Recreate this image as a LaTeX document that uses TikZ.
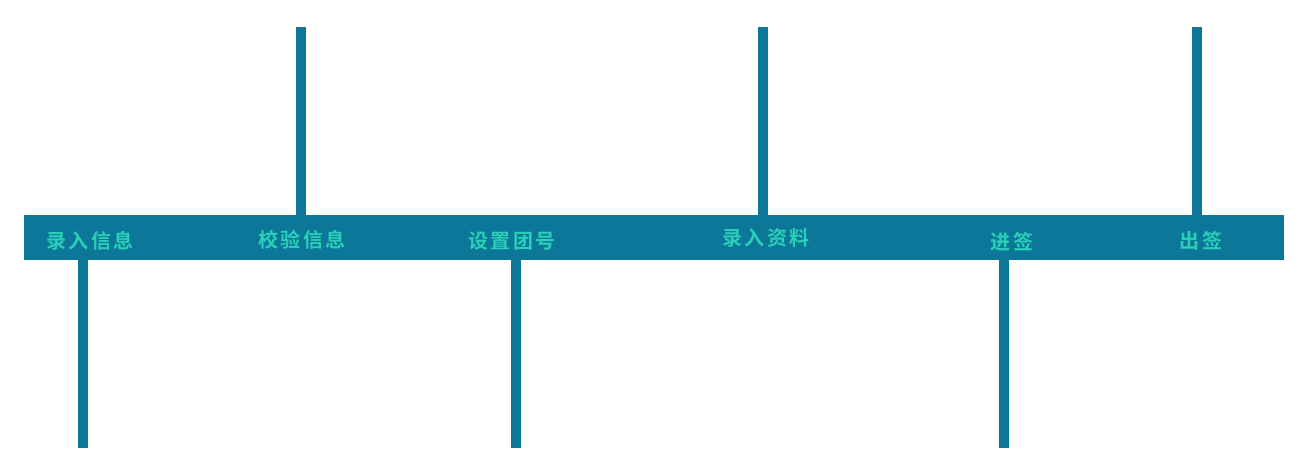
\documentclass[tikz,border=0pt]{standalone}
\usepackage{fontspec}
\newfontfamily\cjk[LetterSpace=12,BoldFont={Noto Sans CJK SC Bold}]{Noto Sans CJK SC}
\definecolor{barblue}{HTML}{0C7799}
\definecolor{steptext}{HTML}{2ACFB8}
\begin{document}
\begin{tikzpicture}[x=1pt,y=-1pt,
    stem/.style={draw=barblue,line width=10pt},
    steplabel/.style={text=steptext,font=\cjk\bfseries\fontsize{20}{20}\selectfont,inner sep=0pt}]

      \useasboundingbox (0,0) rectangle (1313,467);

      \node[fill=barblue,minimum width=1260pt,minimum height=45pt,inner sep=0pt,anchor=north west] (axis) at (24,215) {};

      \begin{scope}[every node/.style={steplabel}]
        \node (s1) at (90,241) {录入信息};
        \node (s2) at (302,240) {校验信息};
        \node (s3) at (512,241) {设置团号};
        \node (s4) at (766,238) {录入资料};
        \node (s5) at (1012,242) {进签};
        \node (s6) at (1201,241) {出签};
      \end{scope}

      % stems above and below the axis
      \coordinate (up1) at (301,27);
      \coordinate (up2) at (763,27);
      \coordinate (up3) at (1197,27);
      \coordinate (dn1) at (83,448);
      \coordinate (dn2) at (516,448);
      \coordinate (dn3) at (1004,448);

      \foreach \u in {up1,up2,up3}
        \draw[stem] (\u) -- (\u |- axis.north);
      \foreach \d in {dn1,dn2,dn3}
        \draw[stem] (\d) -- (\d |- axis.south);

    \end{tikzpicture}
\end{document}
